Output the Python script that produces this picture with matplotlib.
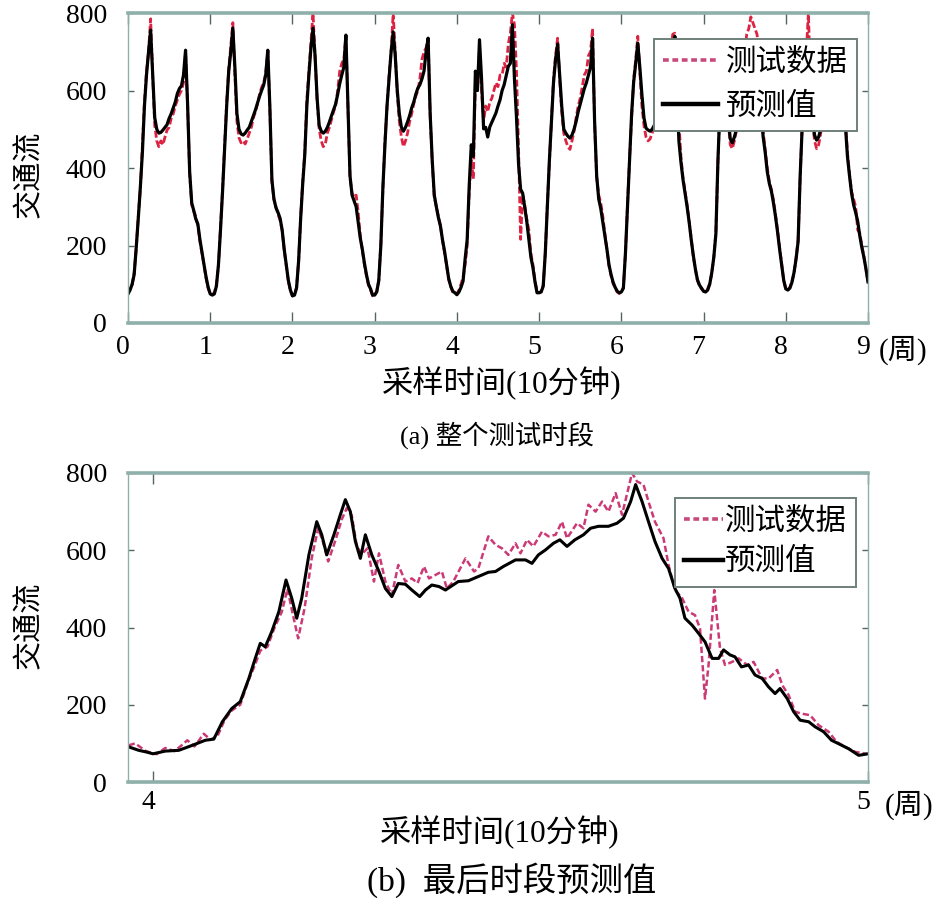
import matplotlib
matplotlib.use("Agg")
import matplotlib.pyplot as plt
import matplotlib.transforms as mtransforms
from matplotlib import font_manager
from matplotlib.lines import Line2D
import numpy as np

_installed = {f.name for f in font_manager.fontManager.ttflist}
_serif = [n for n in ["Liberation Serif", "Tinos", "DejaVu Serif"] if n in _installed][:1]
plt.rcParams["font.family"] = _serif + ["Noto Sans CJK SC", "DejaVu Sans"]

# (a) 整个测试时段: 每周 40 个采样点
pred_w0 = [75, 85, 100, 125, 195, 270, 350, 440, 560, 640, 700, 756, 640, 530, 500, 490, 492, 498, 505, 512,
           528, 540, 555, 570, 592, 605, 612, 640, 704, 563, 390, 310, 290, 268, 255, 215, 182, 150, 118, 92]
pred_w1 = [75, 72, 75, 95, 150, 240, 340, 450, 560, 650, 700, 761, 660, 540, 500, 488, 485, 490, 498, 505,
           520, 535, 550, 568, 585, 600, 614, 640, 704, 560, 370, 320, 297, 285, 270, 240, 190, 150, 110, 85]
pred_w2 = [70, 72, 90, 160, 270, 360, 434, 560, 640, 710, 761, 690, 580, 510, 495, 490, 495, 505, 519, 535,
           550, 565, 590, 618, 640, 660, 743, 560, 380, 330, 315, 300, 260, 219, 190, 155, 125, 100, 88, 72]
pred_w3 = [72, 80, 110, 200, 350, 460, 560, 630, 700, 751, 690, 600, 540, 505, 495, 505, 519, 535, 555, 570,
           590, 606, 615, 630, 650, 700, 735, 540, 420, 330, 300, 272, 250, 215, 185, 150, 115, 95, 82, 78]
pred_w4 = [73, 80, 92, 108, 165, 215, 355, 460, 430, 650, 600, 731, 630, 501, 505, 480, 506, 518, 530, 542,
           560, 576, 600, 615, 638, 662, 670, 770, 630, 530, 410, 345, 335, 298, 262, 216, 170, 143, 106, 78]
pred_w5 = [78, 80, 95, 180, 300, 420, 520, 620, 680, 720, 640, 560, 500, 490, 482, 477, 485, 500, 520, 545,
           565, 585, 605, 620, 640, 660, 735, 520, 380, 320, 295, 260, 225, 190, 150, 125, 105, 92, 82, 78]
pred_w6 = [80, 90, 180, 300, 420, 540, 622, 670, 722, 660, 590, 530, 503, 498, 495, 500, 510, 525, 545, 565,
           585, 600, 620, 640, 655, 680, 740, 610, 470, 415, 370, 335, 300, 260, 215, 175, 140, 112, 98, 90]
pred_w7 = [82, 80, 85, 100, 130, 170, 230, 420, 560, 660, 720, 650, 530, 475, 465, 480, 500, 530, 560, 600,
           640, 670, 695, 710, 725, 730, 700, 640, 540, 480, 440, 390, 360, 340, 310, 275, 235, 190, 150, 110]
pred_w8 = [88, 85, 90, 105, 130, 165, 210, 380, 508, 620, 690, 720, 640, 530, 485, 472, 480, 500, 520, 545,
           570, 595, 615, 635, 655, 670, 690, 700, 690, 510, 430, 380, 335, 305, 285, 262, 225, 195, 170, 140]
pred_end = 106

test_w0 = [75, 88, 98, 130, 190, 275, 345, 455, 570, 650, 700, 785, 640, 510, 470, 455, 470, 460, 480, 498,
           505, 528, 540, 560, 575, 590, 600, 620, 700, 560, 385, 305, 288, 275, 250, 210, 180, 148, 115, 90]
test_w1 = [75, 74, 78, 98, 148, 245, 345, 455, 570, 655, 715, 775, 640, 520, 478, 465, 470, 462, 475, 490,
           505, 530, 545, 565, 590, 608, 620, 645, 700, 555, 365, 318, 300, 280, 265, 238, 188, 148, 108, 84]
test_w2 = [70, 74, 92, 158, 275, 365, 440, 575, 650, 725, 800, 690, 575, 500, 470, 455, 462, 490, 505, 525,
           545, 560, 600, 650, 670, 680, 740, 555, 375, 335, 325, 330, 285, 225, 188, 150, 122, 98, 86, 70]
test_w3 = [72, 82, 108, 205, 345, 470, 555, 640, 700, 800, 700, 590, 520, 480, 455, 470, 490, 520, 540, 565,
           585, 600, 630, 680, 700, 710, 735, 535, 415, 325, 300, 275, 252, 212, 182, 148, 112, 94, 80, 76]
test_w4 = [75, 85, 100, 118, 150, 200, 340, 420, 372, 620, 600, 709, 600, 520, 560, 545, 570, 580, 600, 620,
           610, 640, 640, 670, 660, 720, 748, 800, 770, 650, 450, 216, 330, 305, 268, 240, 180, 150, 110, 80]
test_w5 = [78, 82, 98, 178, 305, 415, 525, 630, 690, 735, 630, 545, 490, 470, 455, 448, 470, 495, 530, 560,
           580, 610, 640, 650, 690, 700, 760, 515, 375, 330, 310, 275, 230, 188, 148, 122, 102, 90, 80, 76]
test_w6 = [80, 92, 178, 305, 425, 530, 630, 680, 740, 650, 560, 510, 480, 470, 475, 490, 505, 520, 545, 570,
           590, 610, 630, 660, 690, 745, 748, 700, 520, 430, 375, 340, 305, 262, 218, 172, 138, 110, 96, 88]
test_w7 = [82, 82, 88, 102, 128, 172, 235, 415, 565, 650, 715, 640, 520, 460, 450, 470, 498, 525, 565, 610,
           700, 745, 760, 790, 775, 760, 745, 700, 560, 495, 445, 400, 365, 345, 318, 280, 240, 195, 152, 110]
test_w8 = [88, 86, 92, 108, 128, 168, 215, 375, 515, 615, 700, 800, 630, 520, 470, 450, 460, 490, 515, 540,
           570, 600, 620, 640, 660, 680, 700, 710, 680, 525, 440, 385, 340, 320, 300, 240, 232, 200, 172, 140]
test_end = 104

# (b) 最后时段预测值 (第 4~5 周)
b_pred_t = [3.966, 3.980, 3.990, 4.000, 4.017, 4.036, 4.055, 4.073, 4.085, 4.097, 4.110, 4.122, 4.134, 4.143,
            4.150, 4.157, 4.166, 4.176, 4.186, 4.194, 4.201, 4.208, 4.218, 4.229, 4.236, 4.243, 4.253, 4.262,
            4.269, 4.276, 4.283, 4.290, 4.297, 4.306, 4.316, 4.325, 4.334, 4.343, 4.353, 4.362, 4.373, 4.381,
            4.390, 4.400, 4.409, 4.418, 4.427, 4.441, 4.455, 4.469, 4.479, 4.490, 4.507, 4.521, 4.530, 4.539,
            4.549, 4.560, 4.569, 4.579, 4.590, 4.602, 4.612, 4.623, 4.637, 4.649, 4.658, 4.668, 4.675, 4.684,
            4.693, 4.702, 4.712, 4.721, 4.730, 4.737, 4.744, 4.754, 4.763, 4.772, 4.782, 4.791, 4.798, 4.807,
            4.814, 4.823, 4.833, 4.842, 4.852, 4.861, 4.870, 4.877, 4.887, 4.896, 4.905, 4.917, 4.926, 4.938,
            4.949, 4.959, 4.973, 4.987, 5.000]
b_pred_v = [91, 82, 78, 73, 80, 82, 95, 108, 111, 156, 190, 208, 268, 320,
            359, 350, 389, 441, 523, 476, 424, 476, 588, 674, 640, 588, 640, 692,
            731, 700, 623, 579, 640, 588, 545, 501, 480, 514, 512, 497, 480, 497,
            510, 506, 497, 508, 519, 521, 532, 543, 545, 558, 575, 575, 566, 588,
            601, 618, 627, 610, 627, 640, 657, 662, 662, 670, 683, 726, 770, 726,
            674, 623, 579, 553, 501, 476, 424, 406, 385, 363, 320, 320, 342, 329,
            324, 298, 303, 277, 268, 246, 229, 242, 216, 182, 160, 156, 143, 130,
            108, 99, 86, 69, 73]
b_test_t = [3.966, 3.975, 3.990, 4.005, 4.017, 4.030, 4.040, 4.048, 4.058, 4.071, 4.080, 4.090, 4.100, 4.110,
            4.122, 4.134, 4.143, 4.150, 4.160, 4.170, 4.180, 4.188, 4.196, 4.203, 4.212, 4.222, 4.231, 4.238,
            4.245, 4.255, 4.264, 4.271, 4.278, 4.285, 4.292, 4.300, 4.309, 4.316, 4.325, 4.334, 4.343, 4.353,
            4.362, 4.370, 4.379, 4.386, 4.395, 4.404, 4.411, 4.420, 4.437, 4.449, 4.455, 4.469, 4.479, 4.488,
            4.497, 4.507, 4.514, 4.523, 4.532, 4.544, 4.553, 4.563, 4.572, 4.579, 4.593, 4.602, 4.609, 4.619,
            4.628, 4.637, 4.647, 4.656, 4.670, 4.677, 4.686, 4.693, 4.702, 4.714, 4.721, 4.730, 4.740, 4.749,
            4.758, 4.765, 4.772, 4.777, 4.785, 4.793, 4.800, 4.810, 4.819, 4.831, 4.840, 4.852, 4.861, 4.873,
            4.880, 4.889, 4.898, 4.907, 4.919, 4.931, 4.945, 4.956, 4.968, 4.982, 4.998]
b_test_v = [95, 100, 80, 72, 88, 80, 95, 108, 92, 125, 110, 118, 160, 185,
            200, 265, 305, 340, 350, 400, 440, 500, 430, 372, 450, 580, 657, 620,
            571, 625, 680, 709, 690, 610, 590, 605, 519, 592, 519, 484, 562, 519,
            527, 515, 558, 527, 536, 545, 501, 519, 579, 545, 553, 636, 614, 605,
            588, 618, 592, 627, 610, 648, 636, 640, 674, 631, 670, 657, 718, 700,
            726, 700, 748, 692, 800, 778, 770, 726, 674, 631, 562, 497, 476, 441,
            432, 398, 216, 303, 497, 346, 303, 311, 320, 303, 311, 268, 268, 290,
            251, 225, 182, 177, 173, 147, 130, 104, 91, 78, 73]

legend_labels = ["测试数据", "预测值"]
y_ticks = [0, 200, 400, 600, 800]

TEST_RED = "#dc2342"      # 上图测试数据 (偏红)
TEST_PINK = "#cc3a76"     # 下图测试数据 (偏洋红)
LEGEND_PINK = "#c84a7c"
FRAME = "#8fb0aa"
TICK_COLOR = "#556660"


def _series(weeks, end):
    n = len(weeks[0])
    t = np.concatenate([k + np.arange(n) / n for k in range(len(weeks))] + [[len(weeks)]])
    v = np.concatenate([np.asarray(w, float) for w in weeks] + [[end]])
    return t, v


def _style(ax, fig, xpad):
    for side in ("top", "bottom"):
        ax.spines[side].set_color(FRAME)
        ax.spines[side].set_linewidth(2.6)
    for side in ("left", "right"):
        ax.spines[side].set_color(FRAME)
        ax.spines[side].set_linewidth(1.0)
    ax.set_ylim(0, 800)
    ax.set_yticks(y_ticks)
    ax.tick_params(axis="x", direction="in", length=8, width=1, color=TICK_COLOR,
                   top=True, labelsize=20, pad=xpad)
    ax.tick_params(axis="y", direction="in", length=4, width=1, color=TICK_COLOR,
                   right=True, labelsize=20, pad=15)
    shift = mtransforms.ScaledTranslation(-5 / 100, 0, fig.dpi_scale_trans)
    for lab in ax.get_xticklabels():
        lab.set_transform(lab.get_transform() + shift)


def _legend(ax, anchor, hlen, tpad, spacing):
    handles = [Line2D([], [], color=LEGEND_PINK, ls=(0, (1.6, 1.0)), lw=2.6),
               Line2D([], [], color="black", lw=3.2)]
    leg = ax.legend(handles, legend_labels, loc="upper right", bbox_to_anchor=anchor,
                    fontsize=22, frameon=True, fancybox=False, framealpha=1,
                    edgecolor="#6f7f7a", borderpad=0.3, labelspacing=spacing,
                    handlelength=hlen, handletextpad=tpad, borderaxespad=0)
    leg.get_frame().set_linewidth(1.4)
    return leg


fig = plt.figure(figsize=(9.45, 8.98), dpi=100)

# ---- (a) ----
ax1 = fig.add_axes([128 / 945, 1 - 323 / 898, 740 / 945, 310 / 898])
t_pred, v_pred = _series([pred_w0, pred_w1, pred_w2, pred_w3, pred_w4, pred_w5, pred_w6, pred_w7, pred_w8], pred_end)
t_test, v_test = _series([test_w0, test_w1, test_w2, test_w3, test_w4, test_w5, test_w6, test_w7, test_w8], test_end)
ax1.plot(t_test, v_test, color=TEST_RED, lw=2.0, ls=(0, (2.5, 1.0)))
ax1.plot(t_pred, v_pred, color="black", lw=2.3)
ax1.set_xlim(0, 9)
ax1.set_xticks(range(10))
_style(ax1, fig, 9)
ax1.annotate("(周)", xy=(1, 0), xycoords="axes fraction", xytext=(8, -9),
             textcoords="offset points", ha="left", va="top", fontsize=21)
ax1.set_ylabel("交通流", fontsize=21)
ax1.yaxis.set_label_coords(-0.115, 0.48)
_legend(ax1, (0.985, 0.916), 1.8, 0.25, 0.5)

fig.text(0.531, 1 - 383 / 898, "采样时间(10分钟)", ha="center", va="center", fontsize=22.5)
fig.text(0.526, 1 - 435 / 898, "(a) 整个测试时段", ha="center", va="center", fontsize=19)

# ---- (b) ----
ax2 = fig.add_axes([128 / 945, 1 - 782 / 898, 740 / 945, 309 / 898])
ax2.plot(b_test_t, b_test_v, color=TEST_PINK, lw=1.8, ls=(0, (2.5, 1.2)))
ax2.plot(b_pred_t, b_pred_v, color="black", lw=2.2)
ax2.set_xlim(3.965, 5.0)
ax2.set_xticks([4, 5])
_style(ax2, fig, 6)
ax2.annotate("(周)", xy=(1, 0), xycoords="axes fraction", xytext=(12, -6),
             textcoords="offset points", ha="left", va="top", fontsize=21)
ax2.set_ylabel("交通流", fontsize=21)
ax2.yaxis.set_label_coords(-0.115, 0.508)
_legend(ax2, (0.984, 0.919), 1.3, 0.05, 0.4)

fig.text(0.529, 1 - 832 / 898, "采样时间(10分钟)", ha="center", va="center", fontsize=22.5)
fig.text(0.541, 1 - 880 / 898, "(b)  最后时段预测值", ha="center", va="center", fontsize=24)

fig.savefig("out.png", dpi=100)
plt.close(fig)
